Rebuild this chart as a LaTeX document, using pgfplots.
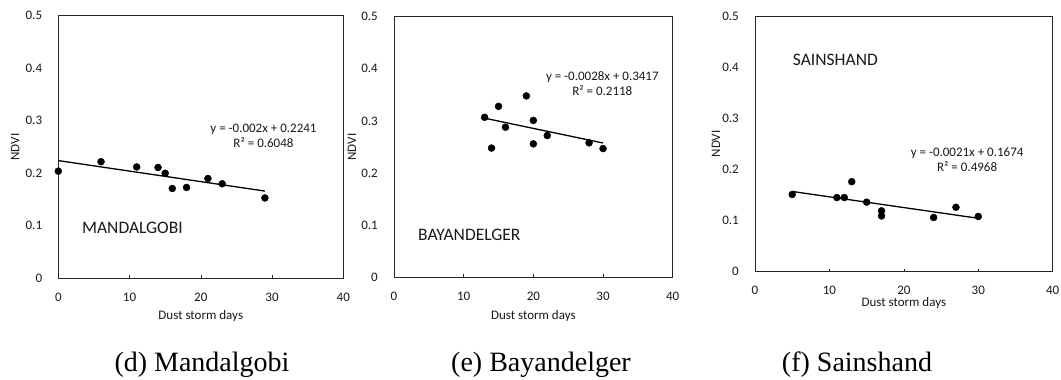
\documentclass[border=0pt]{standalone}
\usepackage{pgfplots}
\pgfplotsset{compat=1.18}
\usepackage{fontspec}
\setmainfont{Carlito}
\newfontfamily\capfont{Liberation Serif}
\newcommand{\sm}{\fontsize{13}{15}\selectfont}
\pgfplotsset{
  panel/.style={
    scale only axis,
    xmin=0, xmax=40, ymin=0, ymax=0.5,
    xtick={0,10,20,30,40}, ytick={0,0.1,0.2,0.3,0.4,0.5},
    yticklabels={0,0.1,0.2,0.3,0.4,0.5},
    xticklabels={0,10,20,30,40},
    axis line style={black!85, line width=0.8pt},
    xtick style={black!85, line width=0.6pt},
    major tick length=3pt,
    ytick style={draw=none},
    tick align=inside,
    xtick pos=bottom, ytick pos=left,
    tick label style={font=\sm, text=black!90},
    xticklabel style={anchor=center, yshift=-19pt},
    yticklabel style={anchor=east, inner sep=0pt, xshift=-16pt},
    label style={font=\sm, text=black!90},
    xlabel={Dust storm days},
    ylabel={NDVI},
    ylabel style={at={(axis description cs:0,0.5)}, anchor=center},
    clip=false,
  },
  pts/.style={only marks, mark=*, mark size=3.5pt, black, mark options={fill=black}},
  trend/.style={black, line width=1.3pt, no marks},
}
\begin{document}
\begin{tikzpicture}
\useasboundingbox (0pt,0pt) rectangle (1061pt,380pt);

% (d) Mandalgobi
\begin{axis}[panel, at={(58.3pt,101.7pt)}, anchor=south west, width=285pt, height=262.6pt,
  xlabel style={at={(axis description cs:0.5,0)}, anchor=center, yshift=-38pt},
  ylabel style={yshift=43pt}]
\addplot[trend] coordinates {(0,0.2241) (29,0.1661)};
\addplot[pts] coordinates {
 (0,0.204) (6,0.222) (11,0.212) (14,0.211) (15,0.200) (16,0.171)
 (18,0.173) (21,0.190) (23,0.180) (29,0.153)};
\node[font=\sm, text=black!90, align=center] at (axis cs:28.8,0.272)
  {y = -0.002x + 0.2241\\R² = 0.6048};
\node[font=\fontsize{17.5}{20}\selectfont, text=black!90] at (axis cs:10.4,0.096) {MANDALGOBI};
\end{axis}

% (e) Bayandelger
\begin{axis}[panel, at={(394pt,102.7pt)}, anchor=south west, width=278.7pt, height=260.6pt,
  xlabel style={at={(axis description cs:0.5,0)}, anchor=center, yshift=-39pt},
  ylabel style={yshift=42pt}]
\addplot[trend] coordinates {(13,0.3053) (30,0.2577)};
\addplot[pts] coordinates {
 (13,0.307) (14,0.248) (15,0.328) (16,0.288) (19,0.348) (20,0.301)
 (20,0.256) (22,0.272) (28,0.258) (30,0.247)};
\node[font=\sm, text=black!90, align=center] at (axis cs:29.9,0.372)
  {y = -0.0028x + 0.3417\\R² = 0.2118};
\node[font=\fontsize{17.5}{20}\selectfont, text=black!90] at (axis cs:10.8,0.081) {BAYANDELGER};
\end{axis}

% (f) Sainshand
\begin{axis}[panel, at={(755pt,108.3pt)}, anchor=south west, width=297.7pt, height=255.7pt,
  xlabel style={at={(axis description cs:0.5,0)}, anchor=center, yshift=-31pt},
  ylabel style={yshift=39pt}]
\addplot[trend] coordinates {(5,0.1569) (30,0.1044)};
\addplot[pts] coordinates {
 (5,0.151) (11,0.145) (12,0.145) (13,0.176) (15,0.136) (17,0.119)
 (17,0.109) (24,0.106) (27,0.126) (30,0.108)};
\node[font=\sm, text=black!90, align=center] at (axis cs:28.5,0.219)
  {y = -0.0021x + 0.1674\\R² = 0.4968};
\node[font=\fontsize{17.5}{20}\selectfont, text=black!90] at (axis cs:10.8,0.414) {SAINSHAND};
\end{axis}

\node[font=\capfont\fontsize{28}{30}\selectfont, anchor=base] at (202pt,8pt) {(d) Mandalgobi};
\node[font=\capfont\fontsize{28}{30}\selectfont, anchor=base] at (541pt,8pt) {(e) Bayandelger};
\node[font=\capfont\fontsize{28}{30}\selectfont, anchor=base] at (857pt,8pt) {(f) Sainshand};
\end{tikzpicture}
\end{document}
